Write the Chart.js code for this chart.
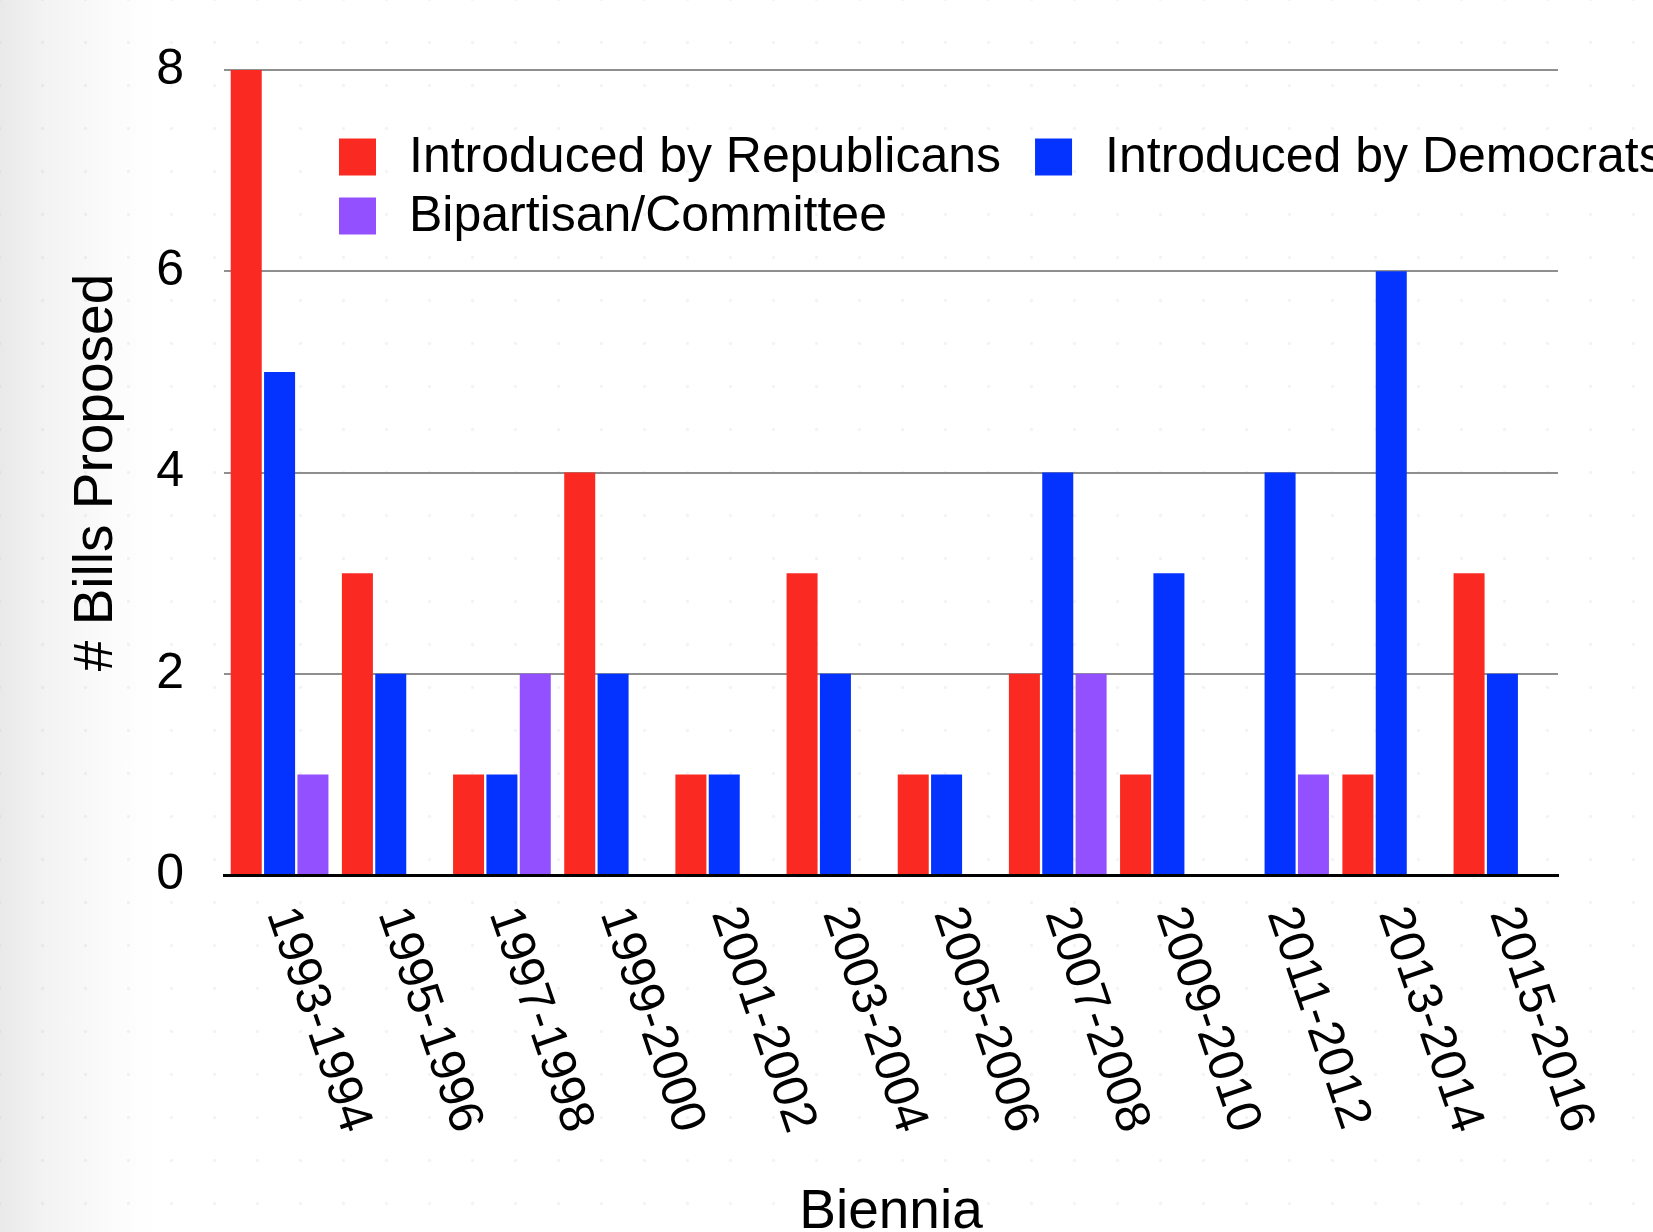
<!DOCTYPE html>
<html>
<head>
<meta charset="utf-8">
<script src="https://cdn.jsdelivr.net/npm/chart.js@4.4.1/dist/chart.umd.min.js"></script>
<style>
  html, body { margin: 0; padding: 0; width: 1653px; height: 1232px; overflow: hidden; }
  body {
    background:
      radial-gradient(circle, rgba(0,0,0,0.045) 1.3px, rgba(0,0,0,0) 2.2px) 21px 21px / 43px 43px,
      linear-gradient(to right, #e9e9e9 0px, #f3f3f3 45px, #fbfbfb 110px, #ffffff 160px);
  }
  #wrap { position: absolute; left: 0; top: 0; width: 1653px; height: 1232px; }
</style>
</head>
<body>
<div id="wrap"><canvas id="c" width="1653" height="1232"></canvas></div>
<script>
// Bienniums on the x axis
const categories = ['1993-1994', '1995-1996', '1997-1998', '1999-2000', '2001-2002', '2003-2004',
                    '2005-2006', '2007-2008', '2009-2010', '2011-2012', '2013-2014', '2015-2016'];

// Bills proposed per biennium, by who introduced them
const republicans = [8, 3, 1, 4, 1, 3, 1, 2, 1, 0, 1, 3];
const democrats   = [5, 2, 1, 2, 1, 2, 1, 4, 3, 4, 6, 2];
const bipartisan  = [1, 0, 2, 0, 0, 0, 0, 2, 0, 1, 0, 0];

const seriesNames = ['Introduced by Republicans', 'Introduced by Democrats', 'Bipartisan/Committee'];
const yTickValues = [0, 2, 4, 6, 8];

const FONT = '"Liberation Sans", Arial, Helvetica, sans-serif';
const COLORS = ['#fa2a22', '#0433ff', '#9350ff'];

// Legend drawn over the top of the plot, in two rows
const overlayLegend = {
  id: 'overlayLegend',
  afterDraw(chart) {
    const ctx = chart.ctx;
    const a = chart.chartArea;
    const ds = chart.data.datasets;
    const box = 37;
    const rows = [[0, 1], [2]];
    const rowY = [a.top + 87, a.top + 146];
    ctx.save();
    ctx.font = '50px ' + FONT;
    ctx.textBaseline = 'middle';
    ctx.textAlign = 'left';
    rows.forEach((row, r) => {
      let x = a.left + 115;
      row.forEach(idx => {
        ctx.fillStyle = ds[idx].backgroundColor;
        ctx.fillRect(x, rowY[r] - box / 2, box, box);
        ctx.fillStyle = '#000';
        const tx = x + 70;
        ctx.fillText(ds[idx].label, tx, rowY[r] + 1);
        x = tx + ctx.measureText(ds[idx].label).width + 34;
      });
    });
    ctx.restore();
  }
};

// Category labels turned clockwise, reading downward from each tick
const slantedLabels = {
  id: 'slantedLabels',
  afterDraw(chart) {
    const ctx = chart.ctx;
    const xs = chart.scales.x;
    const a = chart.chartArea;
    const angle = 71 * Math.PI / 180;
    ctx.save();
    ctx.font = '49px ' + FONT;
    ctx.fillStyle = '#000';
    ctx.textAlign = 'left';
    ctx.textBaseline = 'middle';
    chart.data.labels.forEach((lab, i) => {
      const x = xs.getPixelForValue(i);
      ctx.save();
      ctx.translate(x, a.bottom + 34);
      ctx.rotate(angle);
      ctx.fillText(lab, 0, 0);
      ctx.restore();
    });
    ctx.restore();
  }
};

new Chart(document.getElementById('c'), {
  type: 'bar',
  data: {
    labels: categories,
    datasets: [
      { label: seriesNames[0], data: republicans, backgroundColor: COLORS[0] },
      { label: seriesNames[1], data: democrats,   backgroundColor: COLORS[1] },
      { label: seriesNames[2], data: bipartisan,  backgroundColor: COLORS[2] }
    ]
  },
  options: {
    responsive: false,
    animation: false,
    devicePixelRatio: 1,
    layout: { padding: { top: 63, right: 95, bottom: 0, left: 0 } },
    datasets: { bar: { categoryPercentage: 0.9, barPercentage: 0.93, borderWidth: 0 } },
    plugins: {
      legend: { display: false },
      tooltip: { enabled: false },
      title: { display: false }
    },
    scales: {
      x: {
        grid: { display: false },
        border: { display: true, color: '#000', width: 3, z: 1 },
        ticks: { display: false },
        title: {
          display: true, text: 'Biennia', color: '#000',
          font: { family: FONT, size: 55, lineHeight: 0.7 },
          padding: { top: 0, bottom: 0 }
        },
        afterFit(scale) { scale.height = 357; }
      },
      y: {
        min: 0, max: 8,
        afterBuildTicks(scale) { scale.ticks = yTickValues.map(v => ({ value: v })); },
        grid: {
          drawTicks: false,
          lineWidth: 2,
          color: ctx => (ctx.tick && ctx.tick.value === 0) ? 'rgba(0,0,0,0)' : '#8f8f8f'
        },
        border: { display: false },
        ticks: {
          padding: 40, color: '#000',
          font: { family: FONT, size: 50 }
        },
        title: {
          display: true, text: '# Bills Proposed', color: '#000',
          font: { family: FONT, size: 55, lineHeight: 1.2 },
          padding: { top: 64, bottom: 0 }
        },
        afterFit(scale) { scale.width = 224; }
      }
    }
  },
  plugins: [overlayLegend, slantedLabels]
});
</script>
</body>
</html>
